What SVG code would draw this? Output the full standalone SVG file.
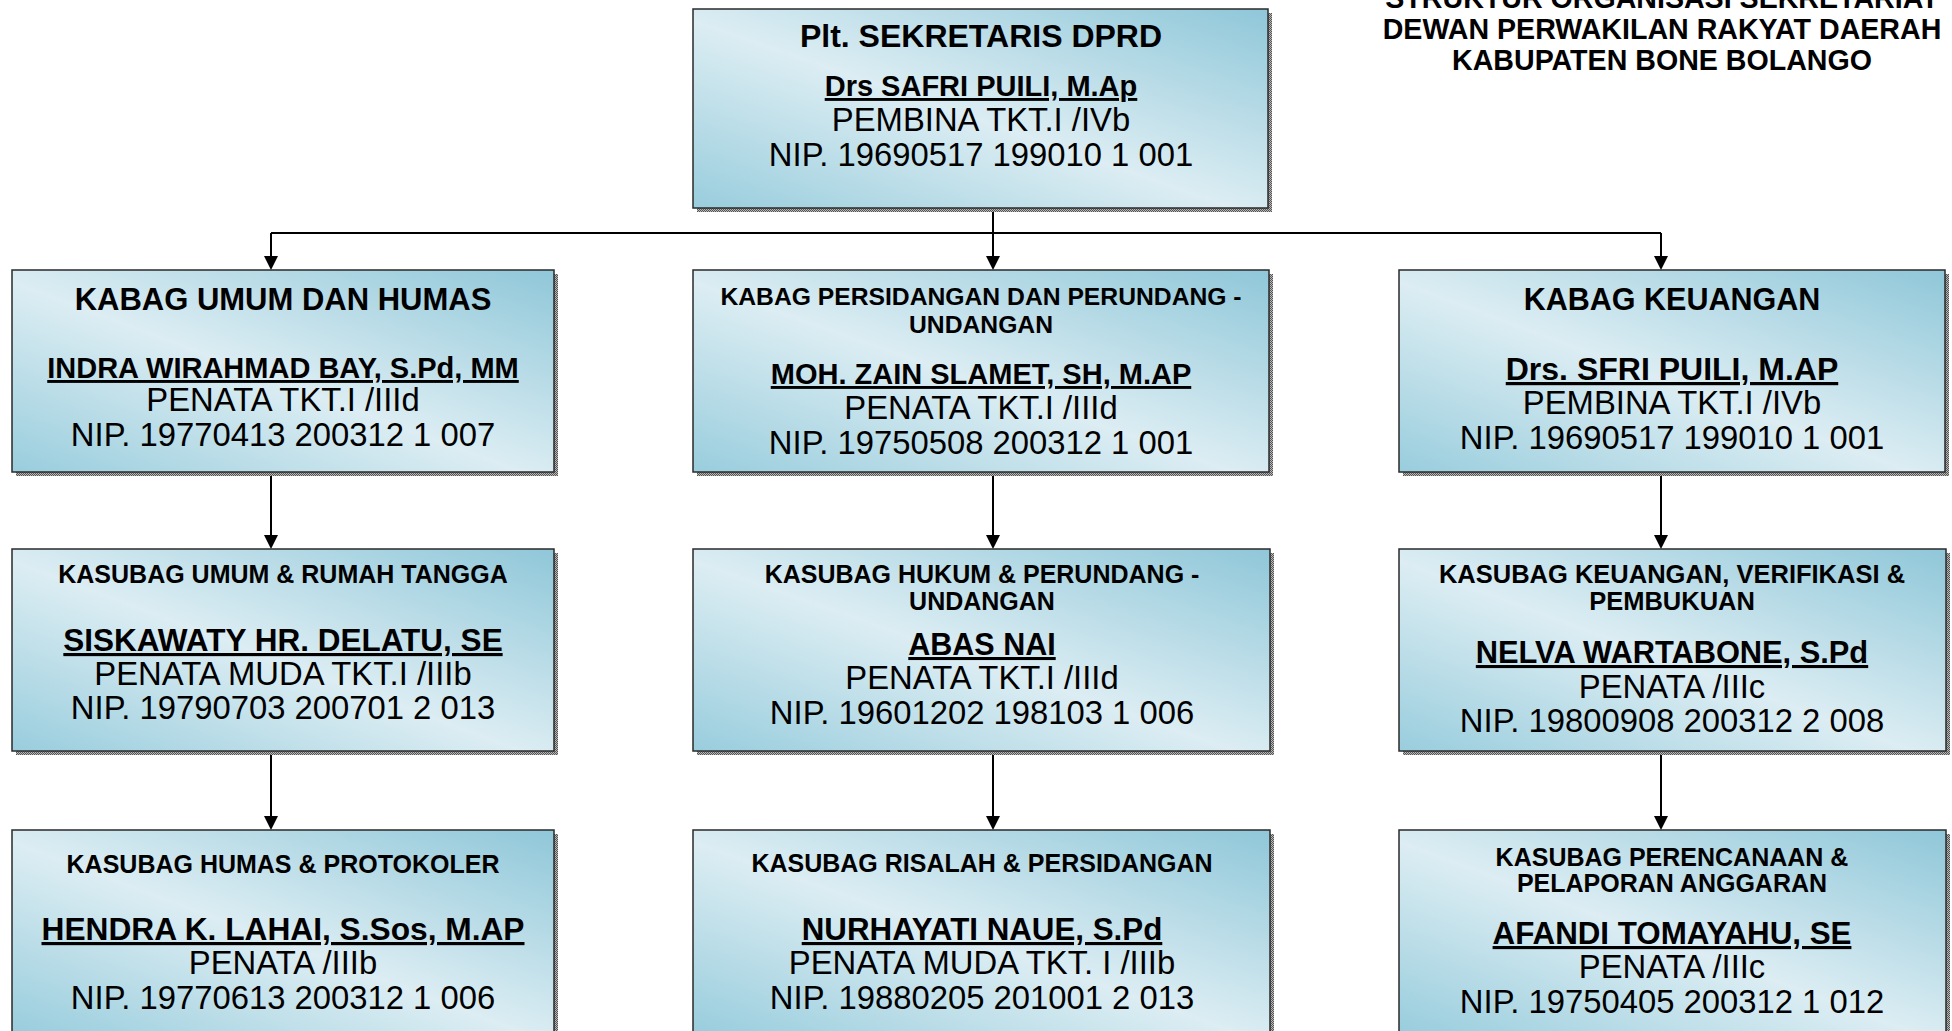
<svg xmlns="http://www.w3.org/2000/svg" width="1952" height="1031" viewBox="0 0 1952 1031">
<style>
text{font-family:"Liberation Sans",Arial,sans-serif;fill:#000;text-anchor:middle}
.hb{font-weight:bold;font-size:31px}
.hs{font-weight:bold;font-size:25px}
.nm{font-weight:bold;font-size:29px;text-decoration:underline}
.r{font-size:32.8px}
.tt{font-weight:bold;font-size:28.6px}
.box{fill:url(#g);stroke:#2a2a2a;stroke-width:1.5}
.sh{fill:url(#dots)}
.cn{stroke:#000;stroke-width:2;fill:none}
</style>
<defs>
<linearGradient id="g" x1="0" y1="1" x2="1" y2="0">
<stop offset="0" stop-color="#99cddd"/>
<stop offset="0.47" stop-color="#dcedf3"/>
<stop offset="1" stop-color="#8fc7d9"/>
</linearGradient>
<pattern id="dots" width="2" height="2" patternUnits="userSpaceOnUse">
<rect width="2" height="2" fill="#b8b8b8"/>
<rect width="1" height="1" fill="#555"/>
<rect x="1" y="1" width="1" height="1" fill="#555"/>
</pattern>
</defs>
<rect width="1952" height="1031" fill="#fff"/>

<g id="title">
<text class="tt" x="1662" y="8">STRUKTUR ORGANISASI SEKRETARIAT</text>
<text class="tt" x="1662" y="39">DEWAN PERWAKILAN RAKYAT DAERAH</text>
<text class="tt" x="1662" y="70">KABUPATEN BONE BOLANGO</text>
</g>

<g id="connectors">
<line class="cn" x1="993" y1="208" x2="993" y2="233"/>
<line class="cn" x1="271" y1="233" x2="1661" y2="233"/>
<path class="cn" d="M271,233 V256"/>
<path d="M264,256 L278,256 L271,270 Z"/>
<path class="cn" d="M993,233 V256"/>
<path d="M986,256 L1000,256 L993,270 Z"/>
<path class="cn" d="M1661,233 V256"/>
<path d="M1654,256 L1668,256 L1661,270 Z"/>
<path class="cn" d="M271,472 V535"/>
<path d="M264,535 L278,535 L271,549 Z"/>
<path class="cn" d="M993,472 V535"/>
<path d="M986,535 L1000,535 L993,549 Z"/>
<path class="cn" d="M1661,472 V535"/>
<path d="M1654,535 L1668,535 L1661,549 Z"/>
<path class="cn" d="M271,751 V816"/>
<path d="M264,816 L278,816 L271,830 Z"/>
<path class="cn" d="M993,751 V816"/>
<path d="M986,816 L1000,816 L993,830 Z"/>
<path class="cn" d="M1661,751 V816"/>
<path d="M1654,816 L1668,816 L1661,830 Z"/>
</g>

<g id="sekretaris">
<rect class="sh" x="697" y="13" width="575" height="199"/>
<rect class="box" x="693" y="9" width="575" height="199"/>
<text class="hb" x="981" y="47" style="font-size:32px">Plt. SEKRETARIS DPRD</text>
<text class="nm" x="981" y="96">Drs SAFRI PUILI, M.Ap</text>
<text class="r" x="981" y="131">PEMBINA TKT.I /IVb</text>
<text class="r" x="981" y="166">NIP. 19690517 199010 1 001</text>
</g>

<g id="kabag-umum">
<rect class="sh" x="16" y="274" width="542" height="202"/>
<rect class="box" x="12" y="270" width="542" height="202"/>
<text class="hb" x="283" y="310">KABAG UMUM DAN HUMAS</text>
<text class="nm" x="283" y="378">INDRA WIRAHMAD BAY, S.Pd, MM</text>
<text class="r" x="283" y="411">PENATA TKT.I /IIId</text>
<text class="r" x="283" y="446">NIP. 19770413 200312 1 007</text>
</g>

<g id="kabag-persidangan">
<rect class="sh" x="697" y="274" width="576" height="202"/>
<rect class="box" x="693" y="270" width="576" height="202"/>
<text class="hs" x="981" y="305" style="font-size:24.7px">KABAG PERSIDANGAN DAN PERUNDANG -</text>
<text class="hs" x="981" y="333" style="font-size:24.7px">UNDANGAN</text>
<text class="nm" x="981" y="384">MOH. ZAIN SLAMET, SH, M.AP</text>
<text class="r" x="981" y="419">PENATA TKT.I /IIId</text>
<text class="r" x="981" y="454">NIP. 19750508 200312 1 001</text>
</g>

<g id="kabag-keuangan">
<rect class="sh" x="1403" y="274" width="546" height="202"/>
<rect class="box" x="1399" y="270" width="546" height="202"/>
<text class="hb" x="1672" y="310" style="font-size:30.5px">KABAG KEUANGAN</text>
<text class="nm" x="1672" y="380" style="font-size:32px">Drs. SFRI PUILI, M.AP</text>
<text class="r" x="1672" y="414">PEMBINA TKT.I /IVb</text>
<text class="r" x="1672" y="449">NIP. 19690517 199010 1 001</text>
</g>

<g id="kasubag-umum">
<rect class="sh" x="16" y="553" width="542" height="202"/>
<rect class="box" x="12" y="549" width="542" height="202"/>
<text class="hs" x="283" y="583">KASUBAG UMUM &amp; RUMAH TANGGA</text>
<text class="nm" x="283" y="651" style="font-size:31.5px">SISKAWATY HR. DELATU, SE</text>
<text class="r" x="283" y="685">PENATA MUDA TKT.I /IIIb</text>
<text class="r" x="283" y="719">NIP. 19790703 200701 2 013</text>
</g>

<g id="kasubag-hukum">
<rect class="sh" x="697" y="553" width="577" height="202"/>
<rect class="box" x="693" y="549" width="577" height="202"/>
<text class="hs" x="982" y="583">KASUBAG HUKUM &amp; PERUNDANG -</text>
<text class="hs" x="982" y="610">UNDANGAN</text>
<text class="nm" x="982" y="655" style="font-size:30.5px">ABAS NAI</text>
<text class="r" x="982" y="689">PENATA TKT.I /IIId</text>
<text class="r" x="982" y="724">NIP. 19601202 198103 1 006</text>
</g>

<g id="kasubag-verifikasi">
<rect class="sh" x="1403" y="553" width="547" height="202"/>
<rect class="box" x="1399" y="549" width="547" height="202"/>
<text class="hs" x="1672" y="583" style="font-size:25.5px">KASUBAG KEUANGAN, VERIFIKASI &amp;</text>
<text class="hs" x="1672" y="610" style="font-size:25.5px">PEMBUKUAN</text>
<text class="nm" x="1672" y="663" style="font-size:30.8px">NELVA WARTABONE, S.Pd</text>
<text class="r" x="1672" y="698">PENATA /IIIc</text>
<text class="r" x="1672" y="732">NIP. 19800908 200312 2 008</text>
</g>

<g id="kasubag-humas">
<rect class="sh" x="16" y="834" width="542" height="202"/>
<rect class="box" x="12" y="830" width="542" height="202"/>
<text class="hs" x="283" y="873">KASUBAG HUMAS &amp; PROTOKOLER</text>
<text class="nm" x="283" y="940" style="font-size:31.7px">HENDRA K. LAHAI, S.Sos, M.AP</text>
<text class="r" x="283" y="974">PENATA /IIIb</text>
<text class="r" x="283" y="1009">NIP. 19770613 200312 1 006</text>
</g>

<g id="kasubag-risalah">
<rect class="sh" x="697" y="834" width="577" height="202"/>
<rect class="box" x="693" y="830" width="577" height="202"/>
<text class="hs" x="982" y="872">KASUBAG RISALAH &amp; PERSIDANGAN</text>
<text class="nm" x="982" y="940" style="font-size:31.3px">NURHAYATI NAUE, S.Pd</text>
<text class="r" x="982" y="974">PENATA MUDA TKT. I /IIIb</text>
<text class="r" x="982" y="1009">NIP. 19880205 201001 2 013</text>
</g>

<g id="kasubag-perencanaan">
<rect class="sh" x="1403" y="834" width="547" height="202"/>
<rect class="box" x="1399" y="830" width="547" height="202"/>
<text class="hs" x="1672" y="866">KASUBAG PERENCANAAN &amp;</text>
<text class="hs" x="1672" y="892">PELAPORAN ANGGARAN</text>
<text class="nm" x="1672" y="944" style="font-size:31.3px">AFANDI TOMAYAHU, SE</text>
<text class="r" x="1672" y="978">PENATA /IIIc</text>
<text class="r" x="1672" y="1013">NIP. 19750405 200312 1 012</text>
</g>
</svg>
